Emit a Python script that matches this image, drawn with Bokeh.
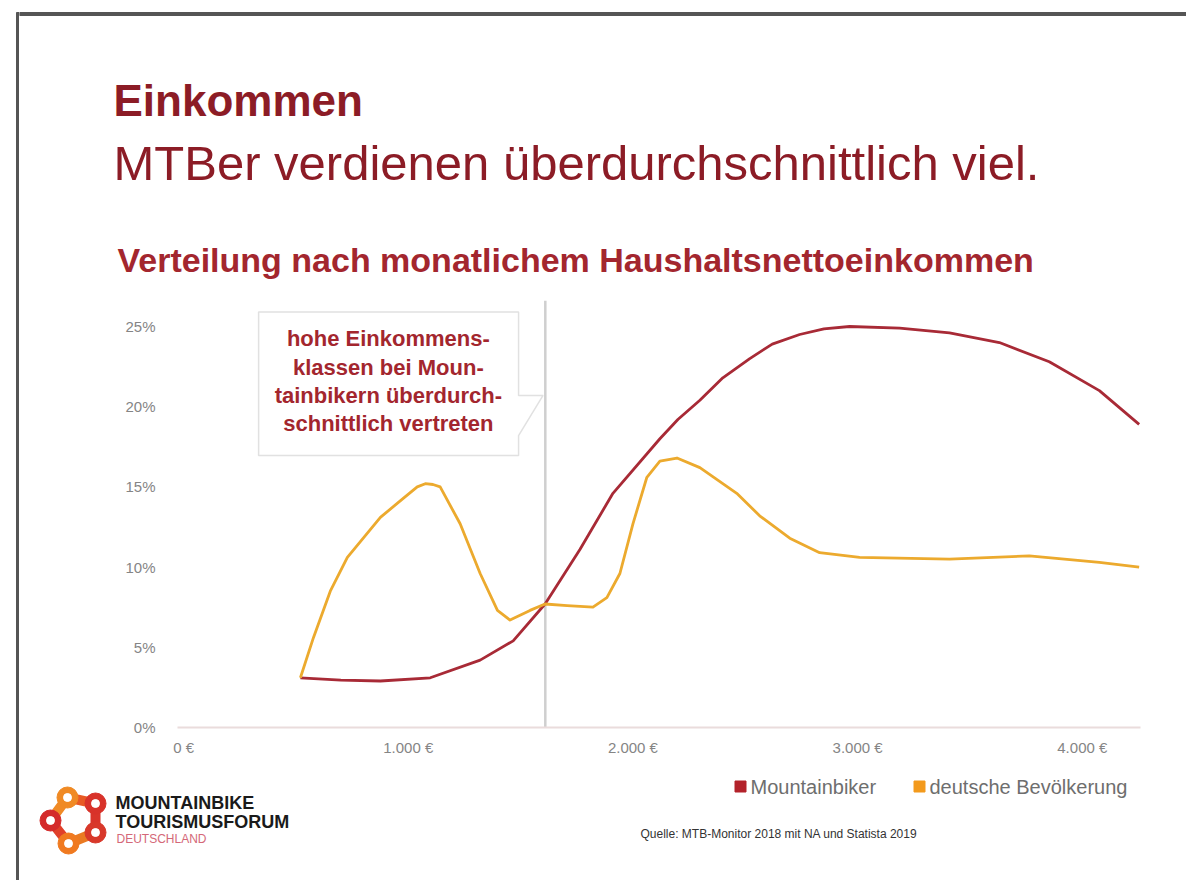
from bokeh.plotting import figure
from bokeh.layouts import column, row
from bokeh.models import Range1d, FixedTicker, Span, PolyAnnotation
from bokeh.core.properties import value
from bokeh.embed import file_html
from bokeh.resources import INLINE

# ---------------- data ----------------
title = "Einkommen"
subtitle = "MTBer verdienen überdurchschnittlich viel."
chart_title = "Verteilung nach monatlichem Haushaltsnettoeinkommen"

series_names = ["Mountainbiker", "deutsche Bevölkerung"]
series_colors = ["#A82A36", "#ECAA2E"]
legend_colors = ["#B3222B", "#F39A1C"]

mtb_x = [520, 700, 876, 1098, 1320, 1467, 1609, 1764, 1911, 2120, 2200, 2298, 2400,
         2520, 2620, 2742, 2850, 2964, 3187, 3409, 3631, 3853, 4076, 4253]
mtb_y = [3.1, 2.95, 2.9, 3.1, 4.2, 5.4, 7.7, 11.1, 14.6, 18.0, 19.2, 20.4, 21.8,
         23.0, 23.9, 24.5, 24.85, 25.0, 24.9, 24.6, 24.0, 22.8, 21.0, 18.9]

pop_x = [520, 578, 653, 729, 876, 979, 1040, 1076, 1110, 1142, 1231, 1320, 1397, 1453,
         1542, 1609, 1707, 1822, 1884, 1942, 2000, 2062, 2120, 2196, 2298, 2462, 2564,
         2698, 2831, 3009, 3409, 3764, 4076, 4253]
pop_y = [3.1, 5.6, 8.5, 10.6, 13.1, 14.3, 15.0, 15.2, 15.15, 15.0, 12.7, 9.6, 7.3, 6.7,
         7.3, 7.7, 7.6, 7.5, 8.1, 9.6, 12.7, 15.6, 16.6, 16.8, 16.2, 14.6, 13.2,
         11.8, 10.9, 10.6, 10.5, 10.7, 10.3, 10.0]

x_ticks = [0, 1000, 2000, 3000, 4000]
x_tick_labels = ["0 €", "1.000 €", "2.000 €", "3.000 €", "4.000 €"]
y_ticks = [0, 5, 10, 15, 20, 25]
y_tick_labels = ["0%", "5%", "10%", "15%", "20%", "25%"]

marker_income = 1610
callout_lines = ["hohe Einkommens-", "klassen bei Moun-",
                 "tainbikern überdurch-", "schnittlich vertreten"]
source_text = "Quelle: MTB-Monitor 2018 mit NA und Statista 2019"
logo_lines = ["MOUNTAINBIKE", "TOURISMUSFORUM"]
logo_sub = "DEUTSCHLAND"

# ---------------- styling ----------------
SANS = "Liberation Sans"
DARKRED = "#8C1C26"
RED2 = "#A3262E"
BORDER = "#555555"
W = 1167
COMMON = dict(toolbar_location=None, output_backend="svg", frame_align=False)


def blank(fig):
    fig.axis.visible = False
    fig.grid.visible = False
    fig.outline_line_color = None
    fig.background_fill_color = "white"
    fig.border_fill_color = "white"
    return fig


# slide left border strip
strip = blank(figure(width=19, height=880, x_range=Range1d(0, 19), y_range=Range1d(880, 0),
                     min_border=0, **COMMON))
strip.quad(left=16, right=19, top=12, bottom=880, color=BORDER)

# ---------------- header ----------------
header = blank(figure(width=W, height=290, x_range=Range1d(0, W), y_range=Range1d(290, 0),
                      min_border=0, **COMMON))
header.quad(left=0, right=W, top=12, bottom=15, color=BORDER)
header.text(x=[94], y=[100], text=[title], text_font=value(SANS), text_font_style="bold",
            text_font_size="44px", text_color=DARKRED, text_baseline="middle")
header.text(x=[94], y=[162], text=[subtitle], text_font=value(SANS),
            text_font_size="49px", text_color=DARKRED, text_baseline="middle")
header.text(x=[98], y=[259], text=[chart_title], text_font=value(SANS), text_font_style="bold",
            text_font_size="34px", text_color=RED2, text_baseline="middle")

# ---------------- main chart ----------------
p = figure(width=W, height=475, x_range=Range1d(-27, 4259), y_range=Range1d(0, 26.62),
           min_border_left=158, min_border_right=46, min_border_top=10, min_border_bottom=38,
           **COMMON)
p.grid.visible = False
p.outline_line_color = None
p.background_fill_color = "white"
p.border_fill_color = "white"

p.xaxis.ticker = FixedTicker(ticks=x_ticks)
p.xaxis.major_label_overrides = {t: l for t, l in zip(x_ticks, x_tick_labels)}
p.yaxis.ticker = FixedTicker(ticks=y_ticks)
p.yaxis.major_label_overrides = {t: l for t, l in zip(y_ticks, y_tick_labels)}
for ax in (p.xaxis, p.yaxis):
    ax.major_tick_line_color = None
    ax.minor_tick_line_color = None
    ax.major_label_text_font = SANS
    ax.major_label_text_font_size = "15px"
    ax.major_label_text_color = "#858585"
p.xaxis.axis_line_color = "#EADCDC"
p.xaxis.axis_line_width = 2
p.yaxis.axis_line_color = None
p.xaxis.major_label_standoff = 5
p.yaxis.major_label_standoff = 16

p.add_layout(Span(location=marker_income, dimension="height", line_color="#CFCFCF",
                  line_width=2.5, level="underlay"))

p.line(mtb_x, mtb_y, line_color=series_colors[0], line_width=2.8, line_join="round")
p.line(pop_x, pop_y, line_color=series_colors[1], line_width=2.8, line_join="round")

# callout box with pointer towards the marker line
bx0, bx1 = 334, 1491
by0, by1 = 16.96, 25.9
tip_x, tip_y, base_y = 1600, 20.7, 18.2
p.add_layout(PolyAnnotation(
    xs=[bx0, bx1, bx1, tip_x, bx1, bx1, bx0],
    ys=[by1, by1, tip_y, tip_y, base_y, by0, by0],
    fill_color="white", fill_alpha=1.0, line_color="#9C9C9C", line_width=1.5))
cx = (bx0 + bx1) / 2 - 1
line_ys = [24.25, 22.45, 20.7, 18.95]
p.text(x=[cx] * len(callout_lines), y=line_ys, text=callout_lines,
       text_font=value(SANS), text_font_style="bold", text_font_size="22px",
       text_color=RED2, text_align="center", text_baseline="middle", level="overlay")

# ---------------- footer ----------------
footer = blank(figure(width=W, height=115, x_range=Range1d(0, W), y_range=Range1d(115, 0),
                      min_border=0, **COMMON))
# legend
leg_sq_x = [721, 900]
footer.scatter(x=leg_sq_x, y=[21, 21], marker="square", size=11, color=legend_colors)
footer.text(x=[x + 10 for x in leg_sq_x], y=[21, 21], text=series_names,
            text_font=value(SANS), text_font_size="20px", text_color="#6E6E6E",
            text_baseline="middle")
# logo
lx = [48, 76, 76, 49, 31, 48]
ly = [32, 38, 67, 78, 55, 32]
link_colors = ["#E85A24", "#D9342A", "#EA7A22", "#E0402A", "#F08A26"]
for i in range(5):
    footer.line(lx[i:i + 2], ly[i:i + 2], line_color=link_colors[i], line_width=10, line_cap="round")
footer.scatter(x=lx[:5], y=ly[:5], marker="circle", size=21,
               color=["#F08A24", "#D8322A", "#D8382A", "#F07A20", "#D42A2A"])
footer.scatter(x=lx[:5], y=ly[:5], marker="circle", size=8, color="white")
footer.text(x=[96, 96], y=[37, 56], text=logo_lines, text_font=value(SANS),
            text_font_style="bold", text_font_size="18px", text_color="#1A1A1A",
            text_baseline="middle")
footer.text(x=[97], y=[73], text=[logo_sub], text_font=value(SANS), text_font_size="12px",
            text_color="#D46878", text_baseline="middle")
footer.text(x=[621], y=[68], text=[source_text], text_font=value(SANS), text_font_size="12px",
            text_color="#333333", text_baseline="middle")

layout = row(strip, column(header, p, footer))
open("out.html", "w").write(file_html(layout, INLINE))
